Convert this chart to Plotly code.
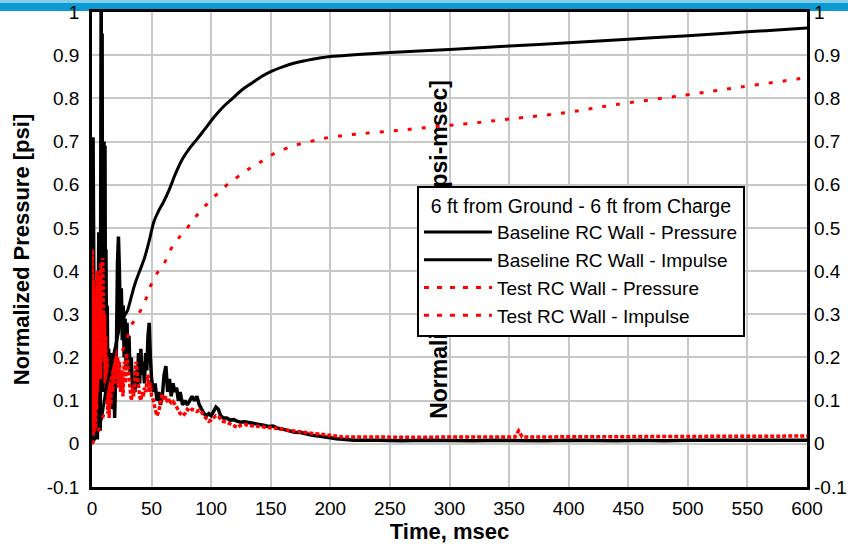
import plotly.graph_objects as go

# ---- Baseline RC wall: normalized pressure vs time (msec) ----
base_p_t = [0, 0.4, 0.9, 1.3, 1.7, 2.1, 2.5, 2.9, 3.3, 3.7, 4.1, 4.5, 4.9, 5.3, 5.7, 6.1, 6.5, 6.9,
            7.3, 7.7, 8.1, 8.5, 8.9, 9.3, 9.7, 10.1, 10.5, 10.9, 11.3, 11.7, 12.2, 12.8, 13.4, 14.0,
            14.7, 15.4, 16.1, 16.8, 17.5, 18.2, 19.0, 19.8, 20.6, 21.4, 22.2, 23.0, 23.8, 24.6, 25.4,
            26.2, 27.0, 27.8, 28.6, 29.4, 30.2, 31.0, 32.0, 33.0, 34.0, 35.0, 36.0, 37.0, 38.0, 39.0,
            40.0, 41.0, 42.0, 43.0, 44.0, 45.0, 46.0, 47.0, 48.0, 49.0, 50.0, 51.5, 53, 54.5, 56, 57.5,
            59, 60.5, 62, 63.5, 65, 66.5, 68, 69.5, 71, 72.5, 74, 76, 78, 80, 82, 84, 86, 88, 90, 92,
            94, 96, 98, 100, 102, 104, 106, 108, 110, 113, 116, 119, 122, 125, 128, 131, 134, 137, 140,
            144, 148, 152, 156, 160, 165, 170, 175, 180, 185, 190, 195, 200, 205, 210, 215, 220, 240,
            260, 280, 300, 320, 340, 360, 380, 400, 420, 440, 460, 480, 500, 520, 540, 560, 580, 600]
base_p_v = [0.0, 0.12, 0.71, 0.25, 0.52, 0.10, 0.38, 0.04, 0.30, 0.02, 0.18, 0.01, 0.12, 0.35, 0.49,
            0.15, 0.47, 0.03, 0.60, 1.08, 0.35, 0.95, 0.18, 0.55, 0.12, 0.70, 0.40, 0.69, 0.25, 0.45,
            0.18, 0.32, 0.10, 0.22, 0.08, 0.20, 0.12, 0.21, 0.08, 0.17, 0.06, 0.15, 0.24, 0.42, 0.48,
            0.40, 0.27, 0.36, 0.24, 0.32, 0.20, 0.29, 0.18, 0.28, 0.19, 0.25, 0.16, 0.20, 0.13, 0.15,
            0.12, 0.17, 0.13, 0.21, 0.14, 0.22, 0.16, 0.19, 0.14, 0.21, 0.17, 0.25, 0.28, 0.20, 0.15,
            0.12, 0.14, 0.10, 0.12, 0.09, 0.11, 0.16, 0.18, 0.12, 0.15, 0.11, 0.14, 0.12, 0.13, 0.10,
            0.12, 0.09, 0.10, 0.09, 0.10, 0.11, 0.10, 0.11, 0.09, 0.08, 0.07, 0.065, 0.07, 0.065, 0.075,
            0.085, 0.08, 0.065, 0.06, 0.06, 0.055, 0.056, 0.052, 0.05, 0.051, 0.05, 0.048, 0.047, 0.045,
            0.043, 0.04, 0.041, 0.036, 0.034, 0.03, 0.027, 0.026, 0.022, 0.02, 0.018, 0.015, 0.014,
            0.012, 0.010, 0.009, 0.008, 0.008, 0.007, 0.008, 0.007, 0.007, 0.008, 0.007, 0.007, 0.008,
            0.007, 0.007, 0.008, 0.007, 0.008, 0.008, 0.007, 0.008, 0.008, 0.008]

# ---- Baseline RC wall: normalized impulse ----
base_i_t = [0, 2, 4, 6, 8, 10, 12, 14, 16, 18, 20, 22, 24, 26, 28, 30, 32, 36, 40, 44, 48, 52, 56,
            60, 65, 70, 76, 82, 88, 95, 102, 110, 118, 126, 134, 142, 150, 160, 170, 180, 190, 200,
            220, 250, 300, 350, 400, 450, 500, 550, 600]
base_i_v = [0, 0.01, 0.025, 0.04, 0.06, 0.095, 0.13, 0.155, 0.18, 0.205, 0.23, 0.255, 0.28, 0.29,
            0.30, 0.31, 0.33, 0.37, 0.40, 0.43, 0.47, 0.515, 0.54, 0.56, 0.59, 0.625, 0.66, 0.685,
            0.705, 0.73, 0.755, 0.78, 0.80, 0.82, 0.835, 0.85, 0.862, 0.873, 0.882, 0.888, 0.893,
            0.897, 0.901, 0.906, 0.913, 0.921, 0.929, 0.937, 0.945, 0.954, 0.963]

# ---- Test RC wall: normalized pressure ----
test_p_t = [0, 0.3, 0.7, 1.0, 1.4, 1.8, 2.2, 2.6, 3.0, 3.4, 3.8, 4.2, 4.6, 5.0, 5.4, 5.8, 6.2, 6.6,
            7.0, 7.4, 7.8, 8.2, 8.6, 9.0, 9.4, 9.8, 10.2, 10.6, 11.0, 11.5, 12.0, 12.6, 13.2, 13.8,
            14.4, 15.0, 15.8, 16.6, 17.4, 18.2, 19.0, 19.8, 20.6, 21.4, 22.2, 23.0, 24.0, 25.0, 26.0,
            27.0, 28.0, 29.0, 30.0, 31.0, 32.0, 33.0, 34.0, 35.0, 36.0, 37.0, 38.0, 39.0, 40.0, 41.0,
            42.0, 43.0, 44.0, 45.0, 46.0, 47.0, 48.0, 49.0, 50.0, 51.5, 53, 54.5, 56, 57.5, 59, 60.5,
            62, 63.5, 65, 66.5, 68, 70, 72, 74, 76, 78, 80, 82, 84, 86, 88, 90, 92, 94, 96, 98, 100,
            102, 104, 106, 108, 110, 113, 116, 119, 122, 125, 128, 131, 134, 137, 140, 144, 148, 152,
            156, 160, 165, 170, 175, 180, 185, 190, 195, 200, 205, 210, 220, 240, 260, 280, 300, 320,
            340, 355, 358, 361, 380, 400, 420, 440, 460, 480, 500, 520, 540, 560, 580, 600]
test_p_v = [0.02, 0.45, 0.08, 0.38, 0.03, 0.33, 0.06, 0.28, 0.02, 0.36, 0.08, 0.40, 0.12, 0.35, 0.18,
            0.39, 0.22, 0.37, 0.15, 0.42, 0.26, 0.38, 0.20, 0.43, 0.24, 0.33, 0.19, 0.30, 0.14, 0.25,
            0.10, 0.20, 0.07, 0.15, 0.06, 0.14, 0.09, 0.18, 0.12, 0.21, 0.14, 0.22, 0.16, 0.20, 0.13,
            0.19, 0.12, 0.17, 0.11, 0.19, 0.14, 0.21, 0.18, 0.14, 0.12, 0.10, 0.13, 0.11, 0.15, 0.19,
            0.16, 0.13, 0.11, 0.10, 0.12, 0.11, 0.13, 0.12, 0.14, 0.16, 0.12, 0.14, 0.11, 0.10, 0.08,
            0.065, 0.075, 0.10, 0.115, 0.10, 0.11, 0.095, 0.10, 0.095, 0.098, 0.09, 0.08, 0.07, 0.065,
            0.07, 0.08, 0.075, 0.08, 0.078, 0.075, 0.078, 0.073, 0.065, 0.058, 0.052, 0.055, 0.06,
            0.065, 0.063, 0.057, 0.052, 0.05, 0.046, 0.042, 0.038, 0.043, 0.045, 0.043, 0.042, 0.043,
            0.042, 0.04, 0.038, 0.036, 0.035, 0.034, 0.031, 0.029, 0.027, 0.025, 0.024, 0.023, 0.021,
            0.019, 0.017, 0.016, 0.016, 0.015, 0.016, 0.015, 0.016, 0.016, 0.016, 0.016, 0.03, 0.016,
            0.016, 0.016, 0.017, 0.016, 0.017, 0.017, 0.017, 0.017, 0.017, 0.018, 0.018, 0.018, 0.018]

# ---- Test RC wall: normalized impulse ----
test_i_t = [0, 4, 8, 12, 16, 20, 24, 29, 33, 39, 44.5, 48.7, 54.3, 60.4, 65.6, 71.6, 78.3, 85, 92,
            99.6, 107.4, 115.2, 124.2, 132.6, 140.4, 150, 162, 175, 188, 200, 225, 258, 290, 317,
            350, 400, 436, 496, 544, 592, 600]
test_i_v = [0, 0.02, 0.05, 0.09, 0.13, 0.17, 0.205, 0.24, 0.274, 0.30, 0.33, 0.363, 0.394, 0.417,
            0.448, 0.473, 0.494, 0.519, 0.542, 0.564, 0.585, 0.604, 0.622, 0.638, 0.651, 0.668,
            0.683, 0.695, 0.703, 0.710, 0.718, 0.726, 0.735, 0.742, 0.752, 0.768, 0.784, 0.807,
            0.826, 0.845, 0.849]

x_ticks = [0, 50, 100, 150, 200, 250, 300, 350, 400, 450, 500, 550, 600]
y_ticks = [-0.1, 0, 0.1, 0.2, 0.3, 0.4, 0.5, 0.6, 0.7, 0.8, 0.9, 1]
y_tick_text = ["-0.1", "0", "0.1", "0.2", "0.3", "0.4", "0.5", "0.6", "0.7", "0.8", "0.9", "1"]

legend_title = "6 ft from Ground - 6 ft from Charge"
names = ["Baseline RC Wall - Pressure", "Baseline RC Wall - Impulse",
         "Test RC Wall - Pressure", "Test RC Wall - Impulse"]

FONT = "Liberation Sans, Arial, sans-serif"
BLACK = "#000000"
RED = "#ff0000"

fig = go.Figure()

# plotted series (legend entries are drawn separately below)
fig.add_trace(go.Scatter(x=base_p_t, y=base_p_v, mode="lines", legendgroup="bp", showlegend=False,
                         line=dict(color=BLACK, width=3.5)))
fig.add_trace(go.Scatter(x=base_i_t, y=base_i_v, mode="lines", yaxis="y2", legendgroup="bi",
                         showlegend=False, line=dict(color=BLACK, width=3, shape="spline")))
fig.add_trace(go.Scatter(x=test_p_t, y=test_p_v, mode="lines", legendgroup="tp", showlegend=False,
                         line=dict(color=RED, width=3.5, dash="4px,2px")))
fig.add_trace(go.Scatter(x=test_i_t, y=test_i_v, mode="lines", yaxis="y2", legendgroup="ti",
                         showlegend=False, line=dict(color=RED, width=3, dash="4px,10px",
                                                     shape="spline")))

# legend keys
for name, grp, color, dash in zip(names, ["bp", "bi", "tp", "ti"],
                                  [BLACK, BLACK, RED, RED],
                                  ["solid", "solid", "5px,8px", "5px,8px"]):
    fig.add_trace(go.Scatter(x=[None], y=[None], mode="lines", name=name, legendgroup=grp,
                             line=dict(color=color, width=3, dash=dash)))

axis_common = dict(
    showline=True, linecolor=BLACK, linewidth=2.5, mirror=True,
    showgrid=True, gridcolor="#c8c8c8", gridwidth=2, zeroline=False, automargin=False,
    tickfont=dict(family=FONT, size=19, color=BLACK), ticks="",
)

fig.update_layout(
    width=848, height=548,
    margin=dict(l=92, r=41, t=12, b=61),
    paper_bgcolor="white", plot_bgcolor="white",
    font=dict(family=FONT, color=BLACK),
    xaxis=dict(range=[0, 600], tickvals=x_ticks, ticklabelstandoff=2,
               title=dict(text="<b>Time, msec</b>", font=dict(family=FONT, size=22), standoff=0),
               **axis_common),
    yaxis=dict(range=[-0.1, 1], tickvals=y_ticks, ticktext=y_tick_text, ticklabelstandoff=6,
               title=dict(text="<b>Normalized Pressure [psi]</b>", font=dict(family=FONT, size=22),
                          standoff=12),
               **axis_common),
    yaxis2=dict(range=[-0.1, 1], tickvals=y_ticks, ticktext=y_tick_text, overlaying="y",
                side="right", showgrid=False, zeroline=False, showline=False, ticks="",
                automargin=False, ticklabelstandoff=6,
                tickfont=dict(family=FONT, size=19, color=BLACK)),
    legend=dict(
        x=0.4545, y=0.634, xanchor="left", yanchor="top",
        bgcolor="white", bordercolor=BLACK, borderwidth=2,
        font=dict(family=FONT, size=19, color=BLACK),
        title=dict(text=legend_title, side="top center", font=dict(family=FONT, size=19.5)),
        itemwidth=68, tracegroupgap=0,
    ),
    shapes=[
        # header band across the top of the page
        dict(type="rect", xref="paper", yref="paper", x0=-0.13, x1=1.06, y0=1.0021, y1=1.0253,
             fillcolor="#0b9ad2", line=dict(width=0), layer="below"),
        dict(type="rect", xref="paper", yref="paper", x0=-0.13, x1=1.06, y0=1.019, y1=1.0253,
             fillcolor="#86cdea", line=dict(width=0), layer="below"),
        # right-axis title, placed inside the plot behind the legend
        dict(type="rect", xref="paper", yref="paper", x0=0.46, x1=0.505, y0=0.0, y1=1.0,
             line=dict(width=0), fillcolor="rgba(0,0,0,0)", layer="above",
             label=dict(text="<b>Normalized Impulse [psi-msec]</b>", textangle=-90,
                        textposition="middle center",
                        font=dict(family=FONT, size=23, color=BLACK))),
    ],
)

fig.write_html("out.html")
